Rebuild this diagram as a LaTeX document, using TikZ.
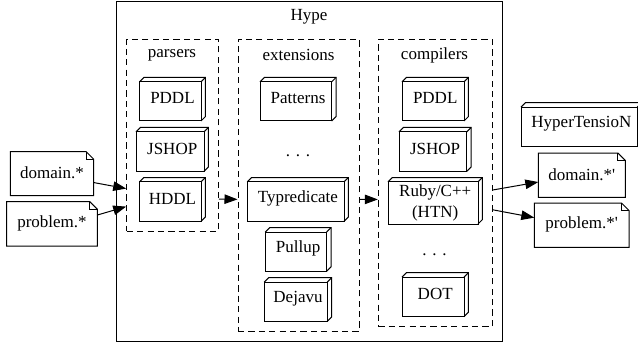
\documentclass[tikz,border=0pt]{standalone}
\usepackage{fontspec}
\setmainfont{Liberation Serif}
\newfontfamily\plainserif{Liberation Serif}
\usetikzlibrary{arrows.meta,calc}
\tikzset{
  txt/.style={font=\fontsize{17}{21}\selectfont,align=center,inner sep=0pt,text=black},
  shapebox/.style={inner sep=0pt,outer sep=0pt,shape=rectangle},
  region/.style={draw=black,line width=1pt,inner sep=0pt,shape=rectangle},
  cluster/.style={region,dash pattern=on 6.2pt off 4.2pt},
  lines/.style={draw=black,line width=1pt,line join=miter},
  flow/.style={draw=black,line width=1pt,-{Triangle[length=13pt,width=9.5pt,fill=black]}},
}
% [text shift], name, x1,y1,x2,y2 of outer box, text
\newcommand{\boxthreed}[7][-0.8]{%
  \pgfmathsetmacro{\cxv}{(#3+#5)/2}\pgfmathsetmacro{\cyv}{(#4+#6)/2}%
  \pgfmathsetmacro{\wv}{#5-#3}\pgfmathsetmacro{\hv}{#6-#4}\pgfmathsetmacro{\tyv}{\cyv+#1}%
  \node[shapebox,minimum width=\wv pt,minimum height=\hv pt] (#2) at (\cxv,\cyv) {};
  \draw[lines] ($(#2.north west)+(0,-4.4pt)$) -- ($(#2.north east)+(-4.4pt,-4.4pt)$) -- ($(#2.south east)+(-4.4pt,0)$) -- (#2.south west) -- cycle;
  \draw[lines] ($(#2.north west)+(0,-4.4pt)$) -- ($(#2.north west)+(4.4pt,0)$) -- (#2.north east) -- ($(#2.south east)+(0,4.4pt)$) -- ($(#2.south east)+(-4.4pt,0)$);
  \draw[lines] ($(#2.north east)+(-4.4pt,-4.4pt)$) -- (#2.north east);
  \node[txt] (#2text) at (\cxv,\tyv) {#7};
}
\newcommand{\notebox}[6]{%
  \pgfmathsetmacro{\cxv}{(#2+#4)/2}\pgfmathsetmacro{\cyv}{(#3+#5)/2}%
  \pgfmathsetmacro{\wv}{#4-#2}\pgfmathsetmacro{\hv}{#5-#3}\pgfmathsetmacro{\tyv}{\cyv-0.8}%
  \node[shapebox,minimum width=\wv pt,minimum height=\hv pt] (#1) at (\cxv,\cyv) {};
  \draw[lines] (#1.north west) -- ($(#1.north east)+(-7.5pt,0)$) -- ($(#1.north east)+(0,-7.5pt)$) -- (#1.south east) -- (#1.south west) -- cycle;
  \draw[lines] ($(#1.north east)+(-7.5pt,0)$) -- ($(#1.north east)+(-7.5pt,-7.5pt)$) -- ($(#1.north east)+(0,-7.5pt)$);
  \node[txt] (#1text) at (\cxv,\tyv) {#6};
}
\begin{document}
\begin{tikzpicture}[x=1pt,y=-1pt]
\useasboundingbox[fill=white] (0,0) rectangle (638,345);
\clip (0,0) rectangle (638,345);
% regions
\node[region,minimum width=385.3pt,minimum height=339.7pt] (hype) at (309.35,171.15) {};
\node[txt] (hypelabel) at (309,16.5) {Hype};
\node[cluster,minimum width=91.6pt,minimum height=192pt] (parsers) at (172.5,135.3) {};
\node[txt] (parserslabel) at (172,55) {parsers};
\node[cluster,minimum width=121pt,minimum height=292pt] (extensions) at (298.5,185.3) {};
\node[txt] (extensionslabel) at (298.5,55) {extensions};
\node[cluster,minimum width=113.7pt,minimum height=287.4pt] (compilers) at (435.15,183) {};
\node[txt] (compilerslabel) at (434.5,55) {compilers};
% parsers
\boxthreed{pPDDL}{139.5}{77.5}{205.4}{121}{PDDL}
\boxthreed{pJSHOP}{136}{127.5}{208.4}{171.3}{JSHOP}
\boxthreed{pHDDL}{139.5}{177.5}{205.4}{221.3}{HDDL}
% extensions
\boxthreed{ePatterns}{260}{77.5}{336}{121}{Patterns}
\node[txt] (edots) at (298,156) {. . .};
\boxthreed{eTypredicate}{247.3}{177.5}{348.4}{221.3}{Typredicate}
\boxthreed{ePullup}{265.3}{227.7}{331}{271.3}{Pullup}
\boxthreed{eDejavu}{264.3}{277.7}{331.7}{321.3}{Dejavu}
% compilers
\boxthreed{cPDDL}{402}{77.5}{468.4}{121}{PDDL}
\boxthreed{cJSHOP}{399}{127.5}{471.2}{171.3}{JSHOP}
\boxthreed[1.8]{cRuby}{388}{177.5}{482.4}{224}{Ruby/C++\\(HTN)}
\node[txt] (cdots) at (434.5,255) {. . .};
\boxthreed{cDOT}{402}{272.7}{468.4}{316.7}{DOT}
% external
\boxthreed{hyper}{521}{102.7}{641.7}{146.7}{HyperTensioN}
\notebox{dom}{10.3}{151.7}{93.7}{195.7}{domain.*}
\notebox{prob}{6.7}{201.7}{97.3}{246}{problem.*}
\notebox{domo}{538.3}{153}{625.3}{197.3}{domain.*{\plainserif '}}
\notebox{probo}{534.3}{203}{629}{247.3}{problem.*{\plainserif '}}
% connectors
\draw[flow] (dom.-12.6) -- (parsers.229.5);
\draw[flow] (prob.11) -- (parsers.237.8);
\draw[flow] (parsers.-54.5) -- (extensions.193.2);
\draw[flow] (extensions.-13.7) -- (compilers.196.6);
\draw[flow] (compilers.-7) -- (domo.189);
\draw[flow] (compilers.-25.8) -- (probo.171.4);
\end{tikzpicture}
\end{document}
